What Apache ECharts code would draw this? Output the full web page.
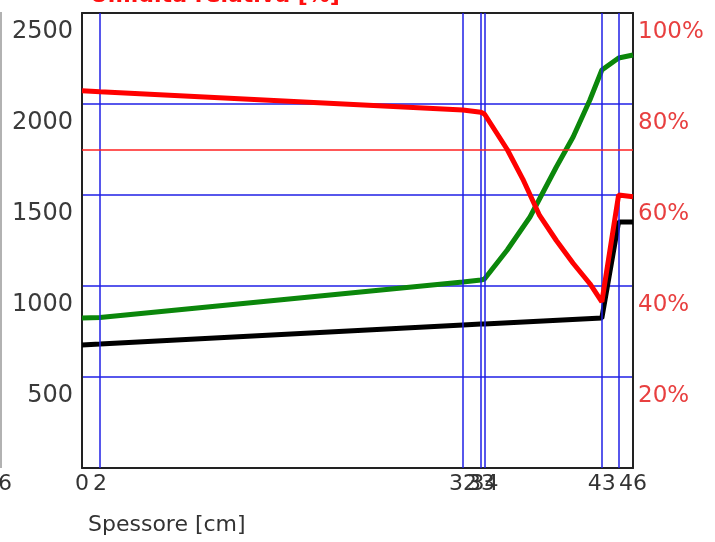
<!DOCTYPE html>
<html>
<head>
<meta charset="utf-8">
<script src="https://cdn.jsdelivr.net/npm/echarts@6/dist/echarts.min.js"></script>
<style>
  html, body { margin: 0; padding: 0; background: #fff; }
  #chart { width: 715px; height: 542px; }
</style>
</head>
<body>
<div id="chart"></div>
<script>
// layer boundaries [cm] and the labels printed under them
const layerBounds = [0, 1.5, 31.8, 33.3, 33.6, 43.4, 44.8, 46]
const layerLabels = ['0', '2', '32', '33', '34', '43', '44', '46']

// saturation pressure [Pa]
const satX = [0, 1.5, 31.8, 33.3, 33.6, 35.5, 37.4, 39.6, 41.0, 42.4, 43.4, 44.8, 46]
const satPa = [824, 827, 1022, 1033, 1038, 1198, 1379, 1654, 1819, 2022, 2187, 2253, 2269]

// vapour pressure [Pa]
const vapX = [0, 1.5, 31.8, 33.3, 33.6, 43.4, 44.8, 46]
const vapPa = [676, 681, 786, 791, 791, 824, 1352, 1352]

// relative humidity [%]
const rhX = [0, 1.5, 31.8, 33.3, 33.6, 35.5, 36.8, 38.2, 39.6, 41.0, 42.4, 43.4, 44.8, 46]
const rhPct = [82.9, 82.7, 78.7, 78.2, 77.8, 70.0, 63.5, 55.5, 50.0, 45.0, 40.5, 36.5, 60.0, 59.6]

// reference humidity line [%]
const rhLimit = 70

const pairs = (xs, ys) => xs.map((x, i) => [x, ys[i]])

const font = 'DejaVu Sans'
const blue = '#1f1fe6'
const frame = { show: true, onZero: false, lineStyle: { color: '#222', width: 2 } }

const chart = echarts.init(document.getElementById('chart'))
chart.setOption({
  animation: false,
  backgroundColor: '#fff',
  grid: {
    left: 82,
    right: 82,
    top: 13,
    bottom: 74,
    backgroundColor: '#fff'
  },
  graphic: [
    {
      type: 'text',
      x: 90,
      y: -15,
      style: { text: 'Umidità relativa [%]', font: 'bold 22px "DejaVu Sans"', fill: '#ff1010', verticalAlign: 'top' }
    },
    {
      type: 'text',
      x: 88,
      y: 514,
      style: { text: 'Spessore [cm]', font: '22px "DejaVu Sans"', fill: '#333', verticalAlign: 'top' }
    },
    {
      type: 'line',
      shape: { x1: 1, y1: 12, x2: 1, y2: 468 },
      style: { stroke: '#999', lineWidth: 1.5 }
    },
    {
      type: 'text',
      x: -2,
      y: 473,
      style: { text: '6', font: '22px "DejaVu Sans"', fill: '#333', verticalAlign: 'top' }
    }
  ],
  xAxis: [
    {
      type: 'value',
      position: 'bottom',
      min: 0,
      max: 46,
      axisLine: frame,
      axisTick: { show: false },
      splitLine: { show: false },
      axisLabel: {
        customValues: layerBounds,
        showMinLabel: true,
        showMaxLabel: true,
        formatter: (v) => layerLabels[layerBounds.indexOf(v)],
        fontFamily: font,
        fontSize: 22,
        color: '#333',
        margin: 5
      }
    },
    {
      // top frame edge
      type: 'value',
      position: 'top',
      min: 0,
      max: 46,
      axisLine: frame,
      axisTick: { show: false },
      axisLabel: { show: false },
      splitLine: { show: false }
    }
  ],
  yAxis: [
    {
      type: 'value',
      position: 'left',
      min: 0,
      max: 2500,
      interval: 500,
      axisLine: frame,
      axisTick: { show: false },
      splitLine: { lineStyle: { color: blue, width: 1.5 } },
      axisLabel: {
        showMinLabel: false,
        formatter: (v) => String(v),
        verticalAlign: 'top',
        lineHeight: 38,
        fontFamily: font,
        fontSize: 24,
        color: '#3a3a3a',
        margin: 9
      }
    },
    {
      type: 'value',
      position: 'right',
      min: 0,
      max: 100,
      interval: 20,
      axisLine: frame,
      axisTick: { show: false },
      splitLine: { show: false },
      axisLabel: {
        showMinLabel: false,
        formatter: '{value}%',
        verticalAlign: 'top',
        lineHeight: 38,
        fontFamily: font,
        fontSize: 23,
        color: '#e84040',
        margin: 5
      }
    }
  ],
  series: [
    {
      // layer boundary lines
      type: 'line',
      data: [],
      silent: true,
      markLine: {
        silent: true,
        symbol: 'none',
        label: { show: false },
        lineStyle: { color: blue, width: 1.5, type: 'solid' },
        data: layerBounds.slice(1, -1).map((v) => ({ xAxis: v }))
      }
    },
    {
      name: 'Pressione di saturazione',
      type: 'line',
      data: pairs(satX, satPa),
      showSymbol: false,
      lineStyle: { color: '#0b870b', width: 5 },
      z: 3
    },
    {
      name: 'Pressione di vapore',
      type: 'line',
      data: pairs(vapX, vapPa),
      showSymbol: false,
      lineStyle: { color: '#000', width: 5 },
      z: 4
    },
    {
      name: 'Umidità relativa',
      type: 'line',
      yAxisIndex: 1,
      data: pairs(rhX, rhPct),
      showSymbol: false,
      lineStyle: { color: '#ff0000', width: 5 },
      z: 5,
      markLine: {
        silent: true,
        symbol: 'none',
        label: { show: false },
        lineStyle: { color: '#ff2020', width: 1.5, opacity: 1, type: 'solid' },
        data: [{ yAxis: rhLimit }]
      }
    }
  ]
})
</script>
</body>
</html>
